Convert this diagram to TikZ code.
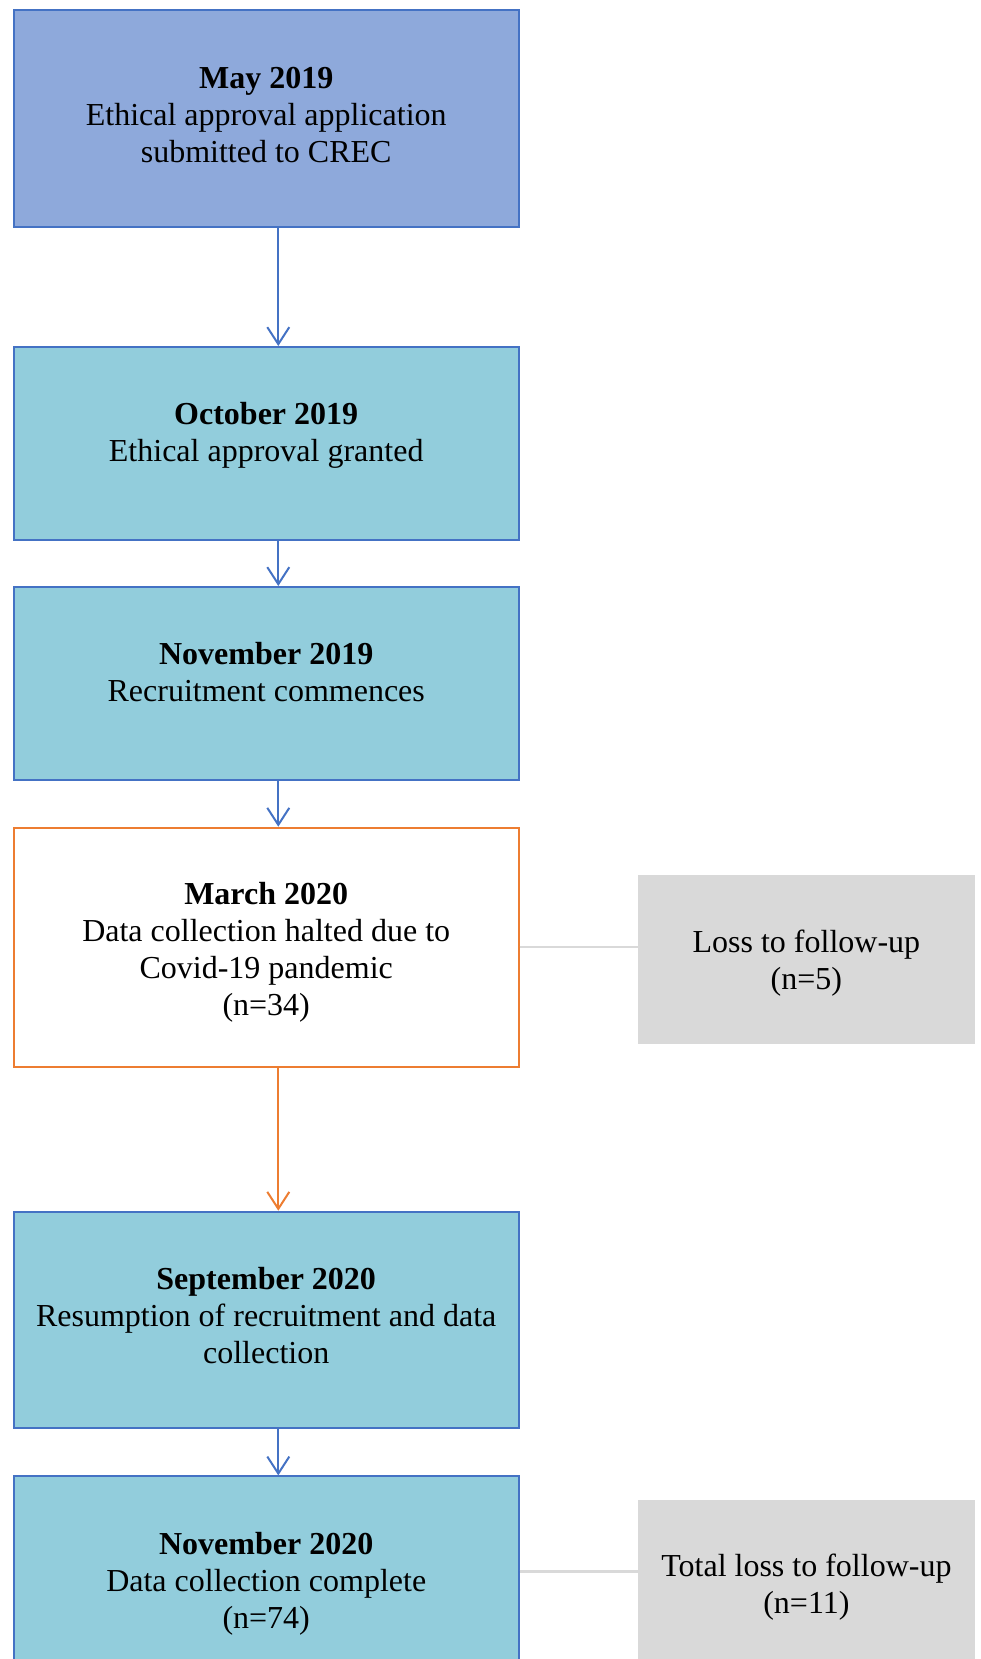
\documentclass[tikz,border=0pt]{standalone}
\usepackage{fontspec}
\setmainfont{Liberation Serif}
\usetikzlibrary{arrows.meta}
\definecolor{bord}{HTML}{4472C4}
\definecolor{fillA}{HTML}{8EA9DB}
\definecolor{fillB}{HTML}{92CDDC}
\definecolor{orng}{HTML}{ED7D31}
\definecolor{grayf}{HTML}{D9D9D9}
\tikzset{
  box/.style={draw=bord, line width=2pt, fill=fillB, rectangle, inner sep=0pt, minimum width=504.8pt},
  obox/.style={draw=orng, line width=2pt, fill=white, rectangle, inner sep=0pt, minimum width=504.8pt},
  gbox/.style={fill=grayf, draw=none, rectangle, inner sep=0pt, minimum width=336.7pt, minimum height=168.5pt},
  txt/.style={align=center, inner sep=0pt, font=\fontsize{32}{37}\selectfont},
  arr/.style={draw=bord, line width=2pt, -{Straight Barb[length=17pt, width=22pt, line width=2pt]}},
  oarr/.style={draw=orng, line width=2pt, -{Straight Barb[length=17pt, width=22pt, line width=2pt]}},
  conn/.style={draw=grayf, line width=2.5pt}
}
\begin{document}
\begin{tikzpicture}[x=1pt, y=-1pt]
\useasboundingbox (0,0) rectangle (981,1659);
% boxes
\node[box, fill=fillA, minimum height=216pt] (b1) at (266.2,118.5) {};
\node[box, minimum height=193pt] (b2) at (266.2,443.5) {};
\node[box, minimum height=193pt] (b3) at (266.2,683.5) {};
\node[obox, minimum height=239pt] (b4) at (266.2,947.2) {};
\node[box, minimum height=216pt] (b5) at (266.2,1319.7) {};
\node[box, minimum height=190.4pt] (b6) at (266.2,1571.6) {};
\node[gbox] (g1) at (806.4,959.3) {};
\node[gbox] (g2) at (806.4,1583.8) {};
% texts
\node[txt] (t1) at (266.2,115.3) {\textbf{May 2019}\\Ethical approval application\\submitted to CREC};
\node[txt] (t2) at (266.2,435.3) {\textbf{October 2019}\\Ethical approval granted};
\node[txt] (t3) at (266.2,672.5) {\textbf{November 2019}\\Recruitment commences};
\node[txt] (t4) at (266.2,952.5) {\textbf{March 2020}\\Data collection halted due to\\Covid-19 pandemic\\(n=34)};
\node[txt] (t5) at (266.2,1315.5) {\textbf{September 2020}\\Resumption of recruitment and data\\collection};
\node[txt] (t6) at (266.2,1583.7) {\textbf{November 2020}\\Data collection complete\\(n=74)};
\node[txt] (t7) at (806.4,963.1) {Loss to follow-up\\(n=5)};
\node[txt] (t8) at (806.4,1587.5) {Total loss to follow-up\\(n=11)};
% arrows
\coordinate (ax) at (278.3,0);
\draw[arr] (b1.south -| ax) -- (b2.north -| ax);
\draw[arr] (b2.south -| ax) -- (b3.north -| ax);
\draw[arr] (b3.south -| ax) -- (b4.north -| ax);
\draw[oarr] (b4.south -| ax) -- (b5.north -| ax);
\draw[arr] (b5.south -| ax) -- (b6.north -| ax);
% connectors
\draw[conn] (b4.east) -- (b4.east -| g1.west);
\draw[conn] (b6.east) -- (b6.east -| g2.west);
\end{tikzpicture}
\end{document}
